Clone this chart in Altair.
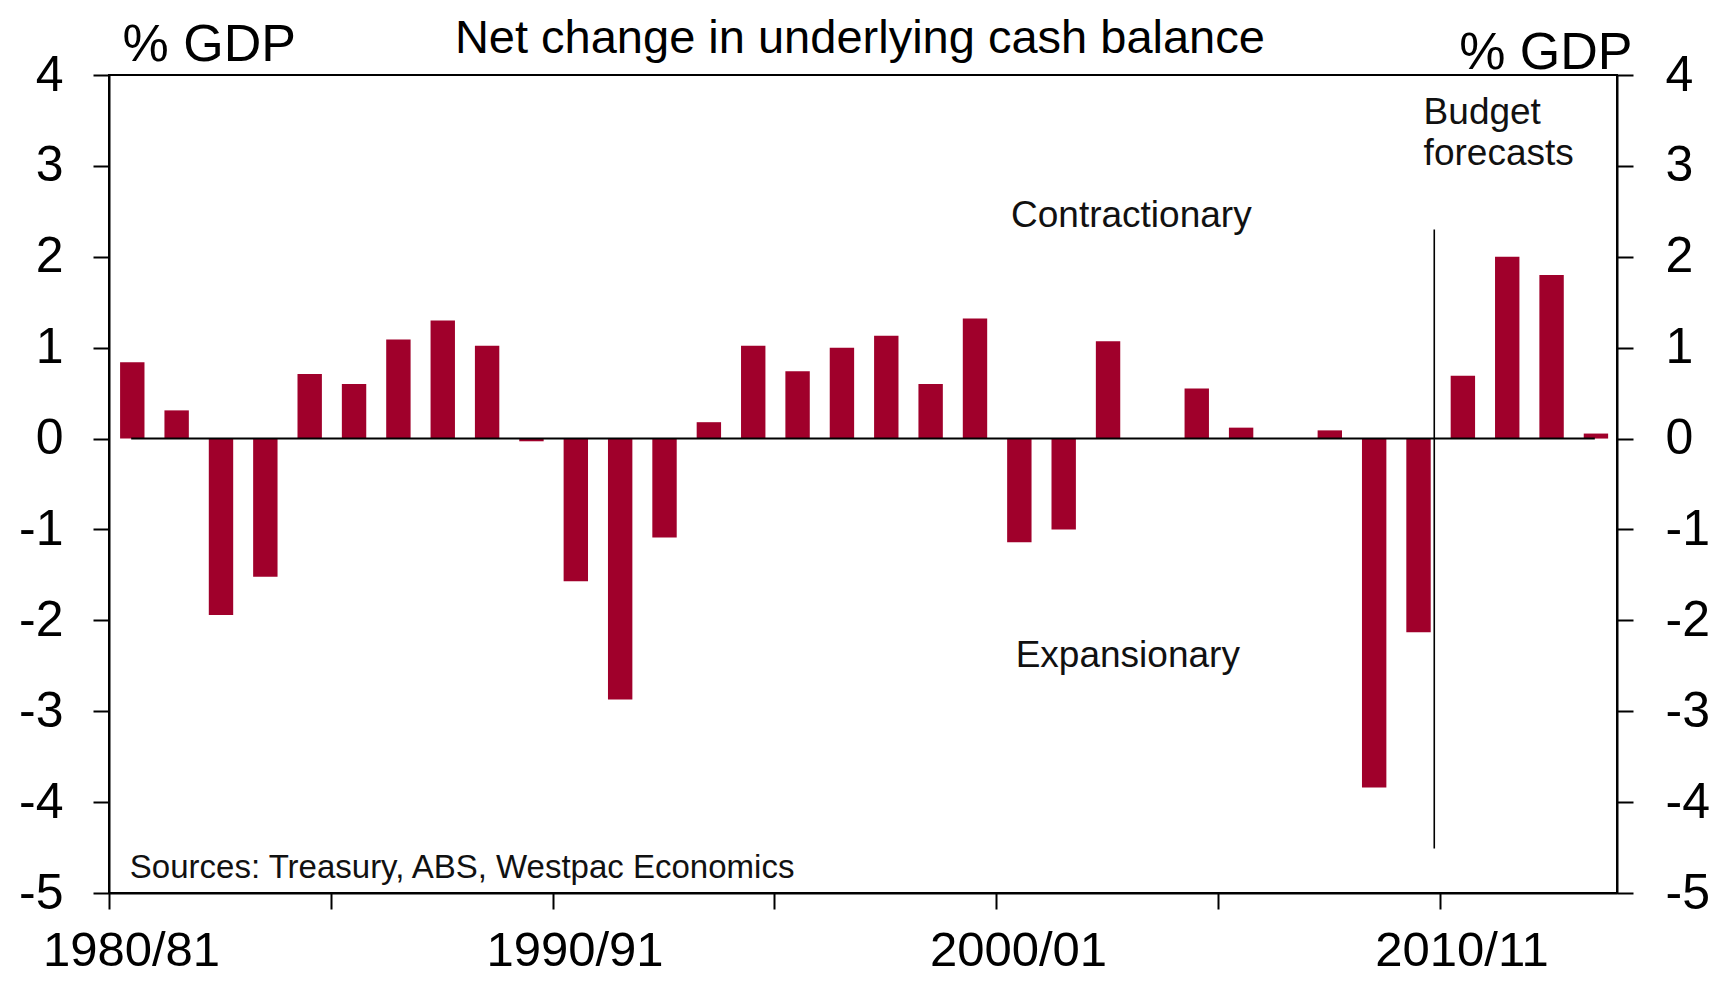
import altair as alt
import pandas as pd

# ---- data ----
years = ["1980/81", "1981/82", "1982/83", "1983/84", "1984/85", "1985/86", "1986/87",
         "1987/88", "1988/89", "1989/90", "1990/91", "1991/92", "1992/93", "1993/94",
         "1994/95", "1995/96", "1996/97", "1997/98", "1998/99", "1999/00", "2000/01",
         "2001/02", "2002/03", "2003/04", "2004/05", "2005/06", "2006/07", "2007/08",
         "2008/09", "2009/10", "2010/11", "2011/12", "2012/13", "2013/14"]
values = [0.84, 0.31, -1.94, -1.52, 0.71, 0.60, 1.09,
          1.30, 1.02, -0.03, -1.57, -2.87, -1.09, 0.18,
          1.02, 0.74, 1.00, 1.13, 0.60, 1.32, -1.14,
          -1.00, 1.07, 0.0, 0.55, 0.12, 0.0, 0.09,
          -3.84, -2.13, 0.69, 2.00, 1.80, 0.055]
y_ticks = [-5, -4, -3, -2, -1, 0, 1, 2, 3, 4]
x_ticks = [1980, 1985, 1990, 1995, 2000, 2005, 2010]

title_text = ["Net change in underlying cash balance"]
title_x = [1996.93]
title_y = [4.245]

ann_text = ["Contractionary", "Expansionary", "Budget", "forecasts"]
ann_x = [2003.05, 2002.97, 2009.64, 2009.64]
ann_y = [2.33, -2.51, 3.465, 3.01]
ann_align = ["center", "center", "left", "left"]

source_text = ["Sources: Treasury, ABS, Westpac Economics"]
source_x = [1980.47]
source_y = [-4.84]

forecast_line_x = [2009.88]
forecast_line_y = [2.30]
forecast_line_y2 = [-4.51]

FONT = "Liberation Sans"
BAR = "#A0002B"

df = pd.DataFrame({"year": years, "value": values})
df["start"] = df["year"].str[:4].astype(int)

xs = alt.Scale(domain=[1980, 2014], nice=False, zero=False)
ys = alt.Scale(domain=[-5, 4], nice=False, zero=False)

x_axis = alt.Axis(orient="bottom", values=x_ticks, tickSize=16, tickWidth=2, labelFontSize=49,
                  labelOffset=22, labelPadding=56, labelBaseline="alphabetic",
                  labelFlush=False, labelOverlap=False, labelBound=False, labelLimit=0,
                  labelExpr="datum.value % 10 == 0 ? datum.value + '/' + substring('' + (datum.value + 1), 2, 4) : ''",
                  title=None)

left_axis = alt.Axis(orient="left", values=y_ticks, tickSize=16, tickWidth=2,
                     labelFontSize=50, labelPadding=30, labelBaseline="middle",
                     labelExpr="'' + datum.value", labelLimit=0,
                     title="% GDP", titleAngle=0, titleAlign="left",
                     titleBaseline="alphabetic", titleX=13, titleY=-15,
                     titleFontSize=52, titleFontWeight="normal", titleFont=FONT,
                     titleColor="black", titleLimit=0)
right_axis = alt.Axis(orient="right", values=y_ticks, tickSize=16, tickWidth=2,
                      labelFontSize=50, labelPadding=32, labelBaseline="middle",
                      labelExpr="'' + datum.value", labelLimit=0,
                      title="% GDP", titleAngle=0, titleAlign="right",
                      titleBaseline="alphabetic", titleX=15, titleY=-7,
                      titleFontSize=52, titleFontWeight="normal", titleFont=FONT,
                      titleColor="black", titleLimit=0)


def X(field):
    return alt.X(field, scale=xs, axis=x_axis)


bars = alt.Chart(df).transform_calculate(
    x0="datum.start + 0.25", x1="datum.start + 0.80"
).mark_bar(color=BAR).encode(
    x=X("x0:Q"),
    x2="x1:Q",
    y=alt.Y("value:Q", scale=ys, axis=left_axis),
    y2=alt.datum(0),
)

zero_df = pd.DataFrame({"x": [df["start"].min() + 0.5], "x2": [df["start"].max() + 0.5], "y": [0]})
zero = alt.Chart(zero_df).mark_rule(color="black", strokeWidth=2).encode(
    x=X("x:Q"),
    x2="x2:Q",
    y=alt.Y("y:Q", scale=ys, axis=right_axis),
)

vline_df = pd.DataFrame({"x": forecast_line_x, "y": forecast_line_y, "y2": forecast_line_y2})
vline = alt.Chart(vline_df).mark_rule(color="black", strokeWidth=1.6).encode(
    x=X("x:Q"),
    y=alt.Y("y:Q", scale=ys, axis=None),
    y2="y2:Q",
)

ann_df = pd.DataFrame({"t": ann_text, "x": ann_x, "y": ann_y, "a": ann_align})
ann_c = alt.Chart(ann_df[ann_df["a"] == "center"]).mark_text(
    font=FONT, fontSize=37, color="#111111", align="center", baseline="alphabetic"
).encode(x=X("x:Q"), y=alt.Y("y:Q", scale=ys, axis=None), text="t:N")
ann_l = alt.Chart(ann_df[ann_df["a"] == "left"]).mark_text(
    font=FONT, fontSize=37, color="#111111", align="left", baseline="alphabetic"
).encode(x=X("x:Q"), y=alt.Y("y:Q", scale=ys, axis=None), text="t:N")

src_df = pd.DataFrame({"t": source_text, "x": source_x, "y": source_y})
src = alt.Chart(src_df).mark_text(
    font=FONT, fontSize=33, color="#111111", align="left", baseline="alphabetic"
).encode(x=X("x:Q"), y=alt.Y("y:Q", scale=ys, axis=None), text="t:N")

ttl_df = pd.DataFrame({"t": title_text, "x": title_x, "y": title_y})
ttl = alt.Chart(ttl_df).mark_text(
    font=FONT, fontSize=47, color="black", align="center", baseline="alphabetic"
).encode(x=X("x:Q"), y=alt.Y("y:Q", scale=ys, axis=None), text="t:N")

chart = alt.layer(bars, zero, vline, ann_c, ann_l, src, ttl).resolve_axis(
    y="independent"
).properties(
    width=1508, height=818,
    autosize=alt.AutoSizeParams(type="none"),
    padding={"left": 101, "top": 67, "right": 104, "bottom": 83},
).configure_view(
    stroke="black", strokeWidth=2
).configure_axis(
    grid=False, domainColor="black", domainWidth=2, tickColor="black",
    labelColor="black", labelFont=FONT, titleFont=FONT
)

chart.save("out.html", embed_options={"renderer": "svg", "actions": False})
